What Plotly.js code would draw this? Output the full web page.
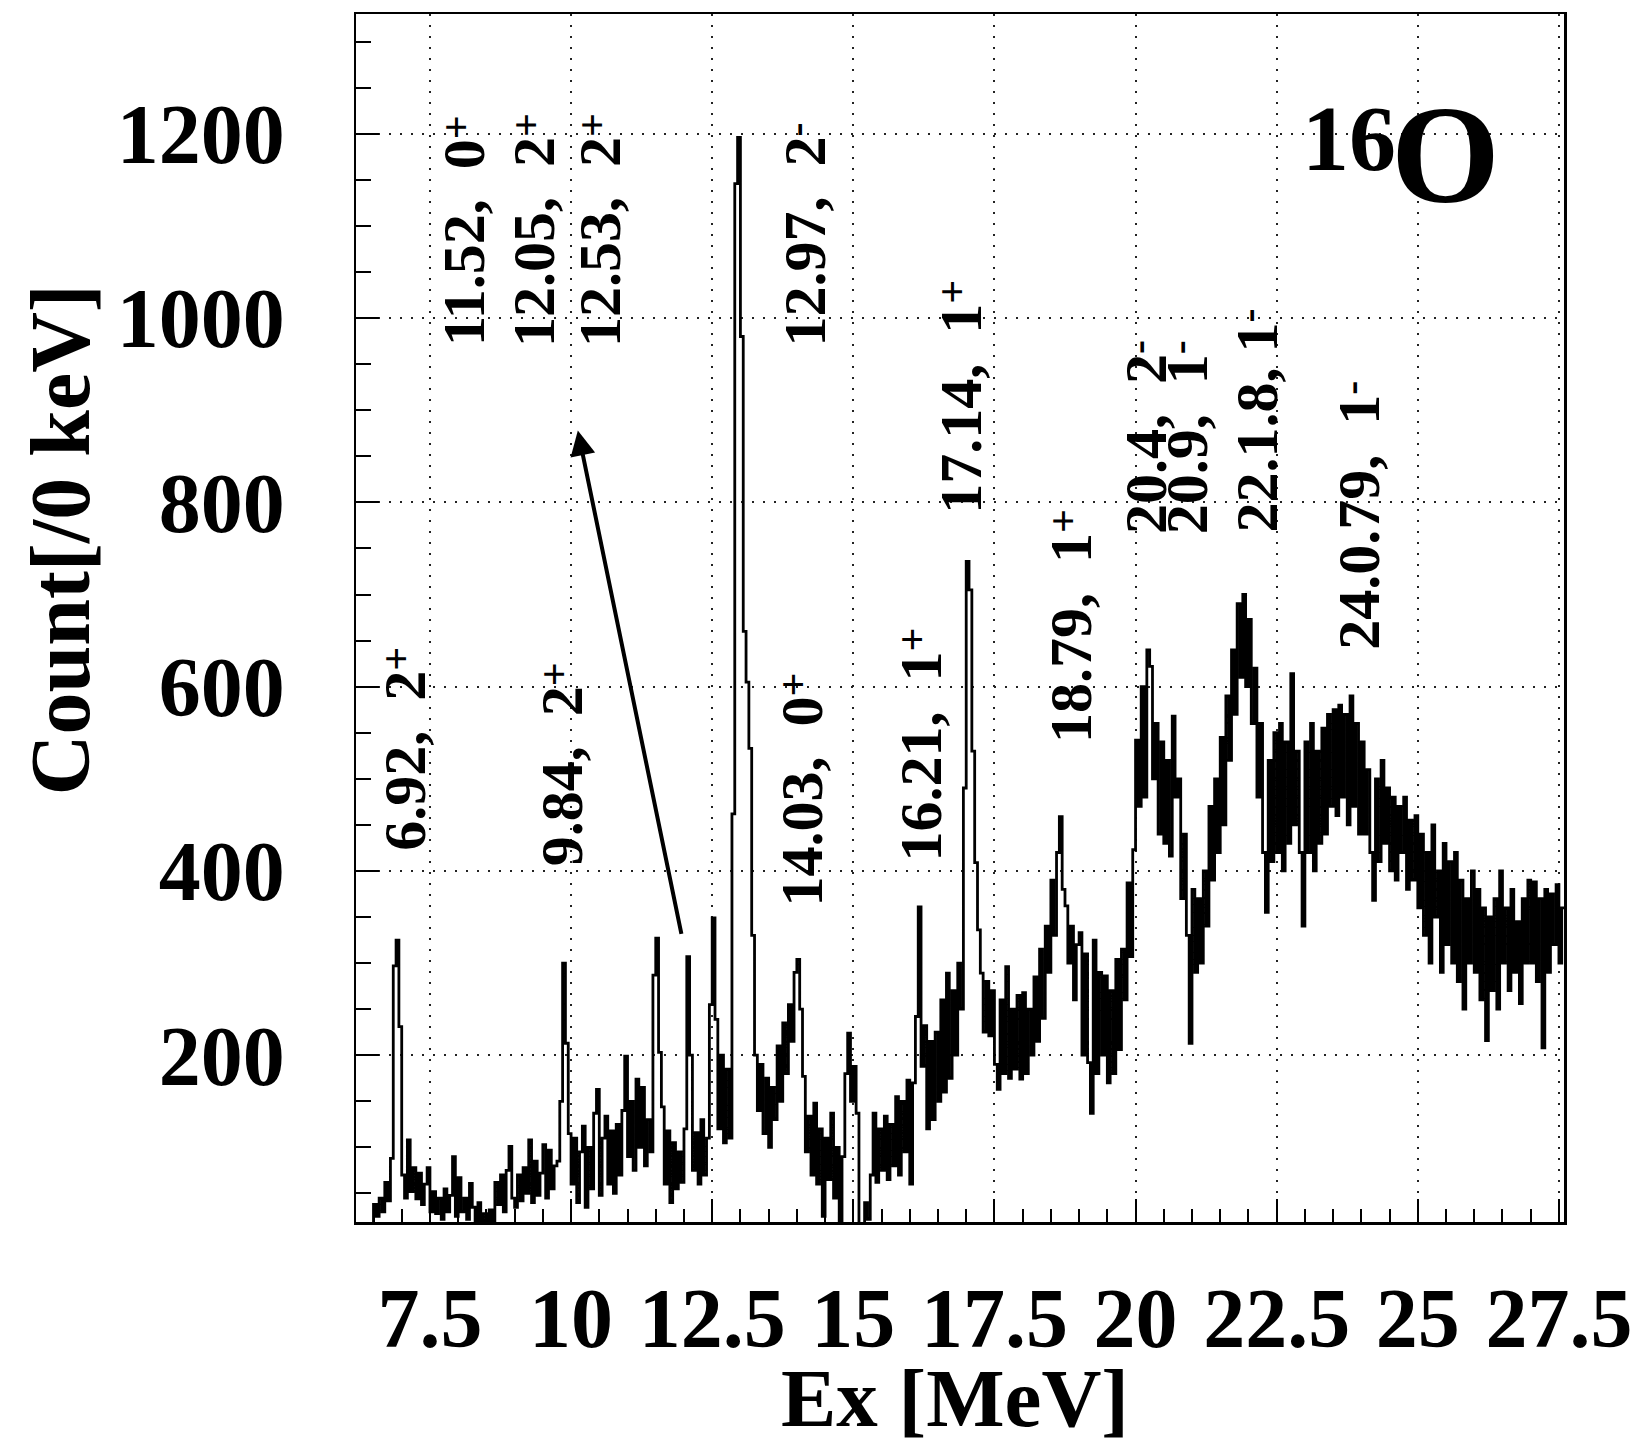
<!DOCTYPE html>
<html>
<head>
<meta charset="utf-8">
<script src="https://cdn.plot.ly/plotly-3.0.1.min.js"></script>
<style>
  html, body { margin: 0; padding: 0; background: #fff; }
  #chart { width: 1633px; height: 1439px; }
</style>
</head>
<body>
<div id="chart"></div>
<script>
// 16O excitation-energy spectrum, histogram with 0.05 MeV bins from 6.2 MeV
const binStart = 6.2;
const binWidth = 0.05;

// counts per bin, 6.20 - 12.95 MeV
const countsLow = [
  0, 0, 0, 5, 10, 12, 38, 25, 45, 30, 62, 42, 88, 297, 325, 231,
  70, 45, 108, 52, 78, 44, 72, 38, 60, 78, 30, 52, 28, 45, 22, 55, 30, 48, 90, 25,
  67, 30, 45, 22, 61, 35, 18, 40, 15, 28, 12, 32, 20, 62, 38, 70, 30, 75, 101, 45,
  35, 70, 42, 78, 50, 108, 40, 85, 48, 72, 103, 45, 97, 55, 80, 85, 150, 300, 213, 115,
  60, 110, 40, 95, 123, 35, 100, 55, 137, 163, 48, 110, 134, 60, 118, 50, 125, 70, 140, 199,
  90, 150, 75, 174, 100, 165, 80, 130, 95, 287, 327, 203, 144, 60, 118, 40, 105, 55, 95, 62,
  120, 307, 200, 75, 116, 60, 130, 70, 110, 255, 349, 239, 120, 200, 105, 185, 110, 462, 1146, 1196
];

// counts per bin, 13.00 - 19.95 MeV
const countsMid = [
  980, 660, 605, 533, 330, 200, 140, 190, 115, 175, 100, 165, 130, 210, 150, 235, 180, 255, 215, 290,
  304, 250, 177, 95, 134, 70, 148, 60, 120, 25, 110, 65, 137, 45, 100, 20, 90, 180, 224, 150,
  188, 137, 10, 5, 40, 22, 70, 137, 62, 120, 75, 134, 65, 125, 80, 155, 70, 150, 95, 173,
  60, 170, 242, 361, 188, 232, 120, 215, 130, 225, 150, 260, 160, 289, 175, 270, 200, 300, 250, 490,
  736, 705, 530, 409, 336, 289, 225, 280, 221, 270, 190, 163, 260, 180, 296, 175, 250, 185, 265, 174,
  268, 180, 250, 200, 285, 215, 315, 240, 340, 290, 390, 330, 420, 459, 380, 362, 300, 340, 260, 320,
  333, 200, 310, 192, 137, 325, 180, 290, 200, 286, 170, 270, 180, 304, 206, 315, 260, 387, 307, 423
];

// counts per bin, 20.00 - 27.55 MeV
const countsHigh = [
  542, 470, 600, 480, 640, 622, 500, 560, 440, 540, 430, 520, 416, 568, 480, 500, 370, 440, 330, 213,
  380, 290, 370, 300, 400, 340, 470, 390, 500, 420, 545, 450, 590, 520, 640, 570, 690, 610, 700, 600,
  673, 560, 620, 480, 560, 420, 355, 520, 410, 550, 420, 560, 400, 540, 430, 614, 450, 530, 420, 340,
  540, 420, 560, 400, 530, 430, 555, 440, 570, 470, 575, 460, 580, 480, 570, 450, 590, 470, 560, 440,
  540, 440, 510, 420, 368, 500, 410, 520, 430, 490, 400, 480, 390, 470, 420, 480, 380, 455, 390, 460,
  360, 440, 330, 420, 300, 450, 350, 400, 290, 430, 320, 410, 300, 420, 280, 390, 250, 370, 300, 400,
  290, 380, 260, 360, 216, 350, 270, 370, 250, 400, 300, 360, 270, 380, 290, 345, 256, 370, 300, 390,
  300, 388, 280, 370, 208, 380, 290, 375, 320, 385, 300, 360
];

const yTickVals = [200, 400, 600, 800, 1000, 1200];

// level labels (energy in MeV, spin-parity)
const levelText = [
  '6.92,\u00a0\u00a02<sup>+</sup>',
  '9.84,\u00a0\u00a02<sup>+</sup>',
  '11.52,\u00a0\u00a00<sup>+</sup>',
  '12.05,\u00a0\u00a02<sup>+</sup>',
  '12.53,\u00a0\u00a02<sup>+</sup>',
  '12.97,\u00a0\u00a02<sup>-</sup>',
  '14.03,\u00a0\u00a00<sup>+</sup>',
  '16.21,\u00a0\u00a01<sup>+</sup>',
  '17.14,\u00a0\u00a01<sup>+</sup>',
  '18.79,\u00a0\u00a01<sup>+</sup>',
  '20.4,\u00a0\u00a02<sup>-</sup>',
  '20.9,\u00a0\u00a01<sup>-</sup>',
  '22.1.8,\u00a01<sup>-</sup>',
  '24.0.79,\u00a0\u00a01<sup>-</sup>'
];

// ---- layout helpers (plot-area fractions) ----
const levelPos = [
  [0.0366, 0.3919], [0.1669, 0.3787],
  [0.0857, 0.8208], [0.1437, 0.8208], [0.1983, 0.8208],
  [0.3680, 0.8171], [0.3647, 0.3576], [0.4641, 0.3949],
  [0.4973, 0.6830], [0.5882, 0.4930],
  [0.6503, 0.6494], [0.6843, 0.6494], [0.7422, 0.6631],
  [0.8266, 0.5850]
];

const SERIF = 'Liberation Serif, Times New Roman, Times, serif';

// bin edges and step-line points
const counts = countsLow.concat(countsMid, countsHigh);
const edges = [];
for (let i = 0; i <= counts.length; i++) edges.push(+(binStart + i * binWidth).toFixed(3));
const stepY = counts.concat([counts[counts.length - 1]]);

const trace = {
  type: 'scatter',
  mode: 'lines',
  x: edges,
  y: stepY,
  line: { shape: 'hv', color: '#000', width: 2.8 },
  hoverinfo: 'skip'
};

const annotations = levelText.map((t, i) => ({
  text: t,
  xref: 'paper', yref: 'paper',
  x: levelPos[i][0], y: levelPos[i][1],
  xanchor: 'center', yanchor: 'middle',
  textangle: -90, showarrow: false,
  font: { family: SERIF, size: 60, color: '#000', weight: 'bold' }
}));

// arrow pointing from the small peaks up to their labels
annotations.push({
  text: '', xref: 'x', yref: 'y', axref: 'x', ayref: 'y',
  x: 10.12, y: 878, ax: 11.96, ay: 330,
  showarrow: true, arrowhead: 2, arrowsize: 1.25, arrowwidth: 4, arrowcolor: '#000',
  standoff: 0, startstandoff: 0
});

// nucleus tag
annotations.push({
  text: '16', xref: 'paper', yref: 'paper', x: 0.822, y: 0.8974,
  xanchor: 'center', yanchor: 'middle', showarrow: false,
  font: { family: SERIF, size: 94, color: '#000', weight: 'bold' }
});
annotations.push({
  text: 'O', xref: 'paper', yref: 'paper', x: 0.9023, y: 0.8833,
  xanchor: 'center', yanchor: 'middle', showarrow: false,
  font: { family: SERIF, size: 140, color: '#000', weight: 'bold' }
});

// axis titles
annotations.push({
  text: 'Ex [MeV]', xref: 'paper', yref: 'paper', x: 0.496, y: -0.146,
  xanchor: 'center', yanchor: 'middle', showarrow: false,
  font: { family: SERIF, size: 83, color: '#000', weight: 'bold' }
});
annotations.push({
  text: 'Count[/0 keV]', xref: 'paper', yref: 'paper', x: -0.244, y: 0.5646,
  xanchor: 'center', yanchor: 'middle', textangle: -90, showarrow: false,
  font: { family: SERIF, size: 84, color: '#000', weight: 'bold' }
});

// white label backgrounds that mask the grid
const boxes = [
  [0.0497, 0.6639, 0.2906, 0.9785],
  [0.0050, 0.2318, 0.0790, 0.5522],
  [0.1258, 0.2210, 0.2078, 0.5430]
].map(b => ({
  type: 'rect', xref: 'paper', yref: 'paper', layer: 'between',
  x0: b[0], y0: b[1], x1: b[2], y1: b[3],
  fillcolor: '#fff', line: { width: 0 }
}));

const layout = {
  width: 1633, height: 1439,
  margin: { l: 356, r: 69, t: 14, b: 217, pad: 0 },
  paper_bgcolor: '#fff', plot_bgcolor: '#fff',
  showlegend: false,
  font: { family: SERIF, color: '#000' },
  xaxis: {
    range: [6.19, 27.59], tickmode: 'linear', tick0: 0, dtick: 2.5,
    ticks: 'inside', ticklen: 23, tickwidth: 2, tickcolor: '#000',
    minor: { tick0: 0, dtick: 0.5, ticks: 'inside', ticklen: 13, tickwidth: 2, tickcolor: '#000', showgrid: false },
    showgrid: true, gridcolor: '#222', gridwidth: 2, griddash: '2px,9px',
    showline: true, mirror: true, linecolor: '#000', linewidth: 2.5,
    zeroline: false, tickangle: 0, automargin: false,
    ticklabelstandoff: 22,
    tickfont: { family: SERIF, size: 84, color: '#000', weight: 'bold' }
  },
  yaxis: {
    range: [19, 1330], tickmode: 'array', tickvals: yTickVals,
    ticks: 'inside', ticklen: 23, tickwidth: 2, tickcolor: '#000',
    minor: { tick0: 0, dtick: 50, ticks: 'inside', ticklen: 15, tickwidth: 2, tickcolor: '#000', showgrid: false },
    showgrid: true, gridcolor: '#222', gridwidth: 2, griddash: '2px,9px',
    showline: true, mirror: true, linecolor: '#000', linewidth: 2.5,
    zeroline: false, automargin: false,
    ticklabelstandoff: 52,
    tickfont: { family: SERIF, size: 84, color: '#000', weight: 'bold' }
  },
  shapes: boxes,
  annotations: annotations
};

Plotly.newPlot('chart', [trace], layout, { staticPlot: true, displayModeBar: false }).then(gd => {
  // sit the spin-parity superscripts a little lower, next to the top of the digit
  gd.querySelectorAll('.annotation-text tspan').forEach(ts => {
    const dy = parseFloat(ts.getAttribute('dy'));
    if (isNaN(dy) || dy === 0) return;
    ts.setAttribute('dy', dy < 0 ? '-0.35em' : '0.245em');
  });
});
</script>
</body>
</html>
